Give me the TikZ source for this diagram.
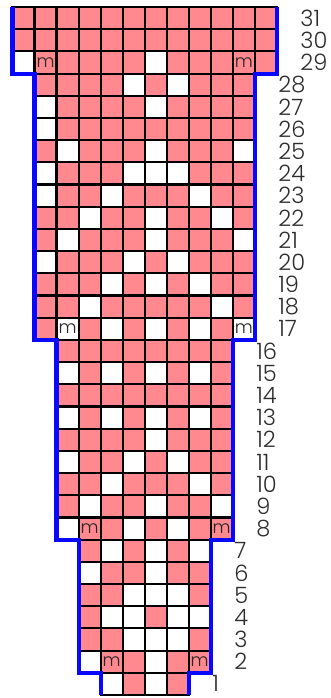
\documentclass[tikz,border=0pt]{standalone}
\usepackage{fontspec}
\setmainfont{Poppins}[UprightFont=* Light]
\usepackage{tikz}
\definecolor{stitchpink}{RGB}{255,137,143}
\definecolor{edgeblue}{RGB}{8,8,255}
\definecolor{rowgray}{RGB}{45,45,45}

\begin{document}
\begin{tikzpicture}[x=0.55cm, y=0.5542cm,
        gridline/.style={draw=black, line width=1.5pt},
        edgeline/.style={draw=edgeblue, line width=2.9pt},
        marker/.style={font=\fontsize{12.5}{12.5}\selectfont, text=black!85, inner sep=0pt},
        rownum/.style={font=\fontsize{16}{16}\selectfont, text=rowgray, anchor=west, inner sep=0pt}]
    \useasboundingbox (-0.567,-0.135) rectangle (14.457,31.315);

    % row / first column / last column / white stitches
    \foreach \r/\a/\b/\w in {31/0/11/{-1}, 30/0/11/{-1}, 29/0/11/{0,6},
            28/1/10/{5,7}, 27/1/10/{1,6}, 26/1/10/{1}, 25/1/10/{2,6,10},
            24/1/10/{1,5,6,7}, 23/1/10/{1,4,8}, 22/1/10/{3,6,9}, 21/1/10/{2,6,10},
            20/1/10/{1,5,7}, 19/1/10/{4,6,8}, 18/1/10/{3,9}, 17/1/10/{2,4,6,8,10},
            16/2/9/{-1}, 15/2/9/{2,4,6,8}, 14/2/9/{-1}, 13/2/9/{2,4,6,8},
            12/2/9/{6}, 11/2/9/{2,5,7}, 10/2/9/{4,8}, 9/2/9/{3,6,9}, 8/2/9/{2,5,7},
            7/3/8/{4,6,8}, 6/3/8/{3,6}, 5/3/8/{5,6,7}, 4/3/8/{4,5,7,8},
            3/3/8/{5,6,7}, 2/3/8/{3,6}, 1/4/7/{4,6}} {
        \foreach \c in {\a,...,\b}
            \fill[stitchpink] (\c,\r-1) rectangle ++(1,1);
        \foreach \c in \w {
            \ifnum\c>-1 \fill[white] (\c,\r-1) rectangle ++(1,1); \fi
        }
        \foreach \c in {\a,...,\b}
            \draw[gridline] (\c,\r-1) rectangle ++(1,1);
        \node[rownum] (row\r) at (\b+2.06,\r-0.5) {\r};
    }

    % outline of the piece
    \draw[edgeline] (0,31) -- (0,28) -- (1,28) -- (1,16) -- (2,16) -- (2,7)
        -- (3,7) -- (3,1) -- (4,1) -- (4,0);
    \draw[edgeline] (12,31) -- (12,28) -- (11,28) -- (11,16) -- (10,16) -- (10,7)
        -- (9,7) -- (9,1) -- (8,1) -- (8,0);

    % markers
    \node[marker] (m29l) at (1.5,28.5) {m};
    \node[marker] (m29r) at (10.5,28.5) {m};
    \node[marker] (m17l) at (2.5,16.5) {m};
    \node[marker] (m17r) at (10.5,16.5) {m};
    \node[marker] (m8l) at (3.5,7.5) {m};
    \node[marker] (m8r) at (9.5,7.5) {m};
    \node[marker] (m2l) at (4.5,1.5) {m};
    \node[marker] (m2r) at (8.5,1.5) {m};
\end{tikzpicture}
\end{document}
